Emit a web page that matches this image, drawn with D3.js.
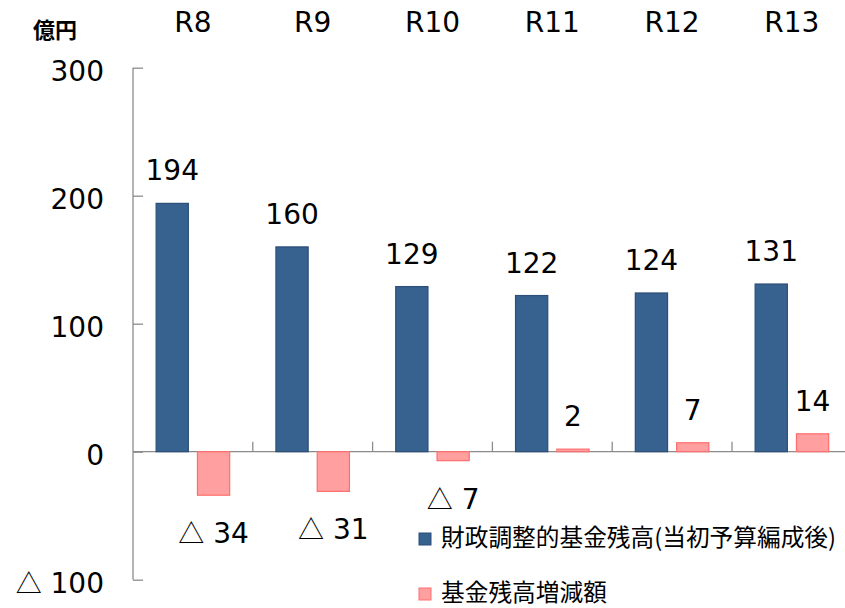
<!DOCTYPE html>
<html>
<head>
<meta charset="utf-8">
<script src="https://cdn.jsdelivr.net/npm/d3@7"></script>
<style>
  body { margin: 0; background: #fff; }
  svg { display: block; }
  text { font-family: "DejaVu Sans", Verdana, sans-serif; fill: #000; }
  .cjk { font-family: "Noto Sans CJK JP", sans-serif; }
</style>
</head>
<body>
<svg id="chart" width="845" height="608"></svg>
<script>
// data
var categories = ["R8", "R9", "R10", "R11", "R12", "R13"];
var seriesNames = ["財政調整的基金残高(当初予算編成後)", "基金残高増減額"];
var balance = [194, 160, 129, 122, 124, 131];
var change = [-34, -31, -7, 2, 7, 14];
var yTicks = [-100, 0, 100, 200, 300];
var unitLabel = "億円";

var colors = [
  { fill: "#37618f", stroke: "#2b4f78" },
  { fill: "#ff9f9f", stroke: "#ff6e6e" }
];

var svg = d3.select("#chart");

var x0 = d3.scaleBand()
  .domain(categories)
  .range([133, 851.8])
  .paddingInner(0)
  .paddingOuter(0);

var x1 = d3.scaleBand()
  .domain([0, 1])
  .range([0, x0.bandwidth()])
  .paddingInner(0.22)
  .paddingOuter(0.56);

var y = d3.scaleLinear()
  .domain([-100, 300])
  .range([579.7, 67.7]);

// negative numbers are written with a triangle, e.g. "△ 34"
function writeValue(sel) {
  sel.each(function (d) {
    var t = d3.select(this);
    if (d < 0) {
      t.append("tspan")
        .attr("class", "cjk")
        .style("font-size", "26px")
        .text("\u25B3");
      t.append("tspan").text(" " + Math.abs(d));
    } else {
      t.text(String(d));
    }
  });
}

// zero line / category axis
svg.append("line")
  .attr("x1", x0.range()[0]).attr("x2", 845)
  .attr("y1", y(0)).attr("y2", y(0))
  .style("stroke", "#8c8c8c").style("stroke-width", 1.3);

// category ticks pointing up from the zero line
svg.selectAll(".ctick")
  .data(categories.slice(1))
  .enter().append("line")
  .attr("class", "ctick")
  .attr("x1", function (d) { return x0(d); })
  .attr("x2", function (d) { return x0(d); })
  .attr("y1", y(0)).attr("y2", y(0) - 10)
  .style("stroke", "#8c8c8c").style("stroke-width", 1.3);

// y axis
var yAxis = d3.axisRight(y)
  .tickValues(yTicks)
  .tickSize(10)
  .tickFormat("");
var ya = svg.append("g")
  .attr("transform", "translate(" + x0.range()[0] + ",0)")
  .call(yAxis);
ya.select(".domain").remove();
ya.selectAll(".tick line").style("stroke", "#8c8c8c").style("stroke-width", 1.3);
svg.append("line")
  .attr("x1", x0.range()[0]).attr("x2", x0.range()[0])
  .attr("y1", y(300)).attr("y2", y(-100))
  .style("stroke", "#8c8c8c").style("stroke-width", 1.3);

// y tick labels
svg.selectAll(".ylab")
  .data(yTicks)
  .enter().append("text")
  .attr("class", "ylab")
  .attr("x", 104)
  .attr("y", function (d) { return y(d) + 13; })
  .attr("text-anchor", "end")
  .style("font-size", "28px")
  .call(writeValue);

// unit
svg.append("text")
  .attr("class", "cjk")
  .attr("x", 55).attr("y", 38)
  .attr("text-anchor", "middle")
  .style("font-size", "22px")
  .style("font-weight", "bold")
  .text(unitLabel);

// category labels at top
svg.selectAll(".clab")
  .data(categories)
  .enter().append("text")
  .attr("class", "clab")
  .attr("x", function (d) { return x0(d) + x0.bandwidth() / 2; })
  .attr("y", 32.3)
  .attr("text-anchor", "middle")
  .style("font-size", "28px")
  .text(function (d) { return d; });

var allSeries = [balance, change];

allSeries.forEach(function (vals, si) {
  var g = svg.append("g");
  g.selectAll("rect")
    .data(vals)
    .enter().append("rect")
    .attr("x", function (d, i) { return x0(categories[i]) + x1(si); })
    .attr("width", x1.bandwidth())
    .attr("y", function (d) { return y(Math.max(0, d)); })
    .attr("height", function (d) { return Math.abs(y(d) - y(0)); })
    .style("fill", colors[si].fill)
    .style("stroke", colors[si].stroke)
    .style("stroke-width", 1.2);

  g.selectAll("text")
    .data(vals)
    .enter().append("text")
    .attr("x", function (d, i) { return x0(categories[i]) + x1(si) + x1.bandwidth() / 2; })
    .attr("y", function (d) { return d < 0 ? y(d) + 48 : y(d) - 23; })
    .attr("text-anchor", "middle")
    .style("font-size", "28px")
    .call(writeValue);
});

// legend
var legendY = [533, 588];
seriesNames.forEach(function (name, si) {
  svg.append("rect")
    .attr("x", 419).attr("y", legendY[si])
    .attr("width", 12).attr("height", 12)
    .style("fill", colors[si].fill)
    .style("stroke", colors[si].stroke)
    .style("stroke-width", 1);
  svg.append("text")
    .attr("class", "cjk")
    .attr("x", 441).attr("y", legendY[si] + 13)
    .style("font-size", "23.7px")
    .text(name);
});
</script>
</body>
</html>
